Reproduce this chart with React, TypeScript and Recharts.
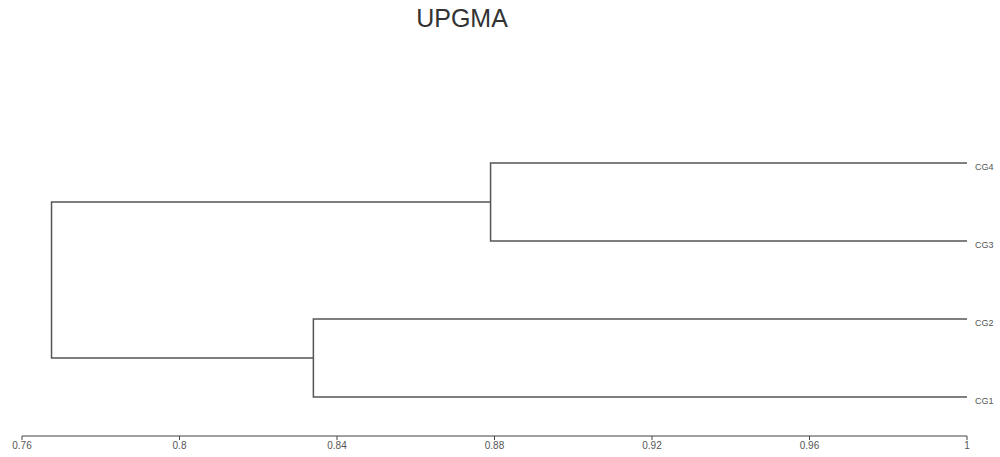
import { ComposedChart, Line, XAxis, YAxis } from "recharts"

// leaves from top to bottom, with their row on the y scale
const leafNames = ["CG4", "CG3", "CG2", "CG1"]
const leafRows = [4, 3, 2, 1]

// first-level merges (pairs of leaves) and their similarity level
const mergeFirst = ["CG4", "CG2"]
const mergeSecond = ["CG3", "CG1"]
const mergeHeights = [0.879, 0.834]
const rootHeight = 0.7675

const xTicks = [0.76, 0.8, 0.84, 0.88, 0.92, 0.96, 1]

const rowOf = (name: string) => leafRows[leafNames.indexOf(name)]

const segments = mergeHeights.map((h, i) => {
  const a = rowOf(mergeFirst[i])
  const b = rowOf(mergeSecond[i])
  return [
    { x: 1, y: a },
    { x: h, y: a },
    { x: h, y: b },
    { x: 1, y: b },
  ]
})

const mids = mergeHeights.map((_, i) => (rowOf(mergeFirst[i]) + rowOf(mergeSecond[i])) / 2)
segments.push([
  { x: mergeHeights[0], y: mids[0] },
  { x: rootHeight, y: mids[0] },
  { x: rootHeight, y: mids[1] },
  { x: mergeHeights[1], y: mids[1] },
])

export default function App() {
  return (
    <div
      style={{
        position: "absolute",
        left: 0,
        top: 0,
        width: 1000,
        height: 457,
        overflow: "hidden",
        fontFamily: "'Liberation Sans', Arial, sans-serif",
      }}
    >
      <div style={{ position: "absolute", left: 0, width: 924, top: 4, textAlign: "center", fontSize: 25, color: "#333" }}>
        UPGMA
      </div>
      <ComposedChart width={1000} height={457} margin={{ top: 124, right: 0, left: 22, bottom: 0 }}>
        <XAxis
          type="number"
          dataKey="x"
          domain={[0.76, 1]}
          ticks={xTicks}
          allowDataOverflow
          height={21}
          tickSize={4}
          tickMargin={2}
          stroke="#444"
          tick={{ fontSize: 10, fill: "#555" }}
        />
        <YAxis
          type="number"
          dataKey="y"
          orientation="right"
          domain={[0.5, 4.5]}
          ticks={leafRows}
          tickFormatter={(v: number) => leafNames[leafRows.indexOf(v)]}
          axisLine={false}
          tickLine={false}
          width={33}
          tick={{ fontSize: 9, fill: "#555", dy: 4, textAnchor: "start" }}
        />
        {segments.map((seg, i) => (
          <Line
            key={i}
            data={seg}
            dataKey="y"
            type="linear"
            stroke="#555"
            strokeWidth={1.5}
            dot={false}
            activeDot={false}
            isAnimationActive={false}
          />
        ))}
      </ComposedChart>
    </div>
  )
}
